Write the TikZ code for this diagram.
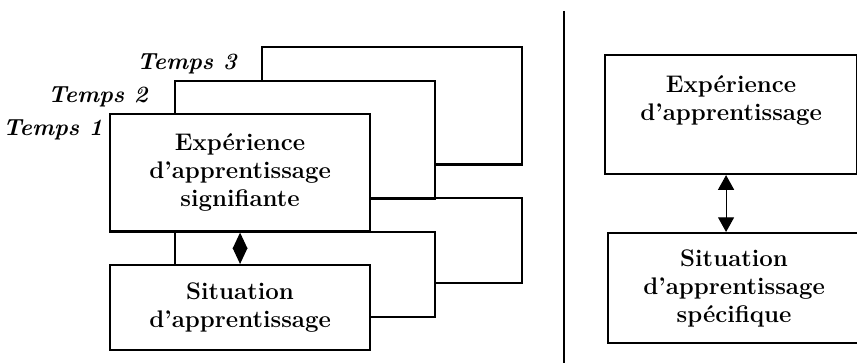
\documentclass[tikz,border=0pt]{standalone}
\usepackage{tikz}
\usetikzlibrary{arrows.meta}
\tikzset{bloc/.style={draw,line width=1.6pt,fill=white,inner sep=0pt,align=center,
    minimum width=195pt,font=\fontsize{18}{21}\selectfont\bfseries},
  haut/.style={bloc,minimum height=88.1pt},
  bas/.style={bloc,minimum height=63.4pt},
  temps/.style={inner sep=0pt,anchor=base east,font=\fontsize{17.5}{20}\selectfont\bfseries\itshape},
  fleche/.style={line width=0.8pt,{Triangle[width=11pt,length=12pt]}-{Triangle[width=11pt,length=12pt]}},
  fleche2/.style={line width=0.8pt,{Triangle[width=12pt,length=11pt]}-{Triangle[width=12pt,length=11pt]}}}

\begin{document}
\begin{tikzpicture}[x=0.75pt,y=0.75pt,yscale=-1,xscale=1]
\useasboundingbox (0,0) rectangle (857,363);

%Shape: Rectangle Temps 3
\node [haut,anchor=north west] (exp3) at (261,46) {};
\node [bas,anchor=north west] (sit3) at (261,197) {};
%Shape: Rectangle Temps 2
\node [haut,anchor=north west] (exp2) at (174,80) {};
\node [bas,anchor=north west] (sit2) at (174,231) {};
%Shape: Rectangle Temps 1
\node [haut,anchor=north west] (exp1) at (109,113) {Expérience\\d’apprentissage\\signifiante};
\node [bas,anchor=north west] (sit1) at (109,264) {Situation\\d’apprentissage};

% Text Node
\node [temps] (t1) at (103,136) {Temps 1};
% Text Node
\node [temps] (t2) at (148,103) {Temps 2};
% Text Node
\node [temps] (t3) at (237,70) {Temps 3};

%Straight Lines
\draw [fleche] (exp1.south) -- (sit1.north);

%Straight Lines
\coordinate (sepHaut) at (564,11);
\coordinate (sepBas) at (564,363);
\draw [line width=1.6pt] (sepHaut) -- (sepBas);

%Shape: Rectangle
\node [bloc,anchor=north west,minimum width=189pt,minimum height=89.25pt] (expR) at (604,54) {Expérience\\d’apprentissage\\\vphantom{g}};
\node [bloc,anchor=north west,minimum width=189pt,minimum height=82.5pt] (sitR) at (607,232) {Situation\\d’apprentissage\\spécifique};

%Straight Lines
\draw [fleche2] ([xshift=-3.75pt]expR.south) -- ([xshift=-3.75pt]expR.south |- sitR.north);

\end{tikzpicture}
\end{document}
